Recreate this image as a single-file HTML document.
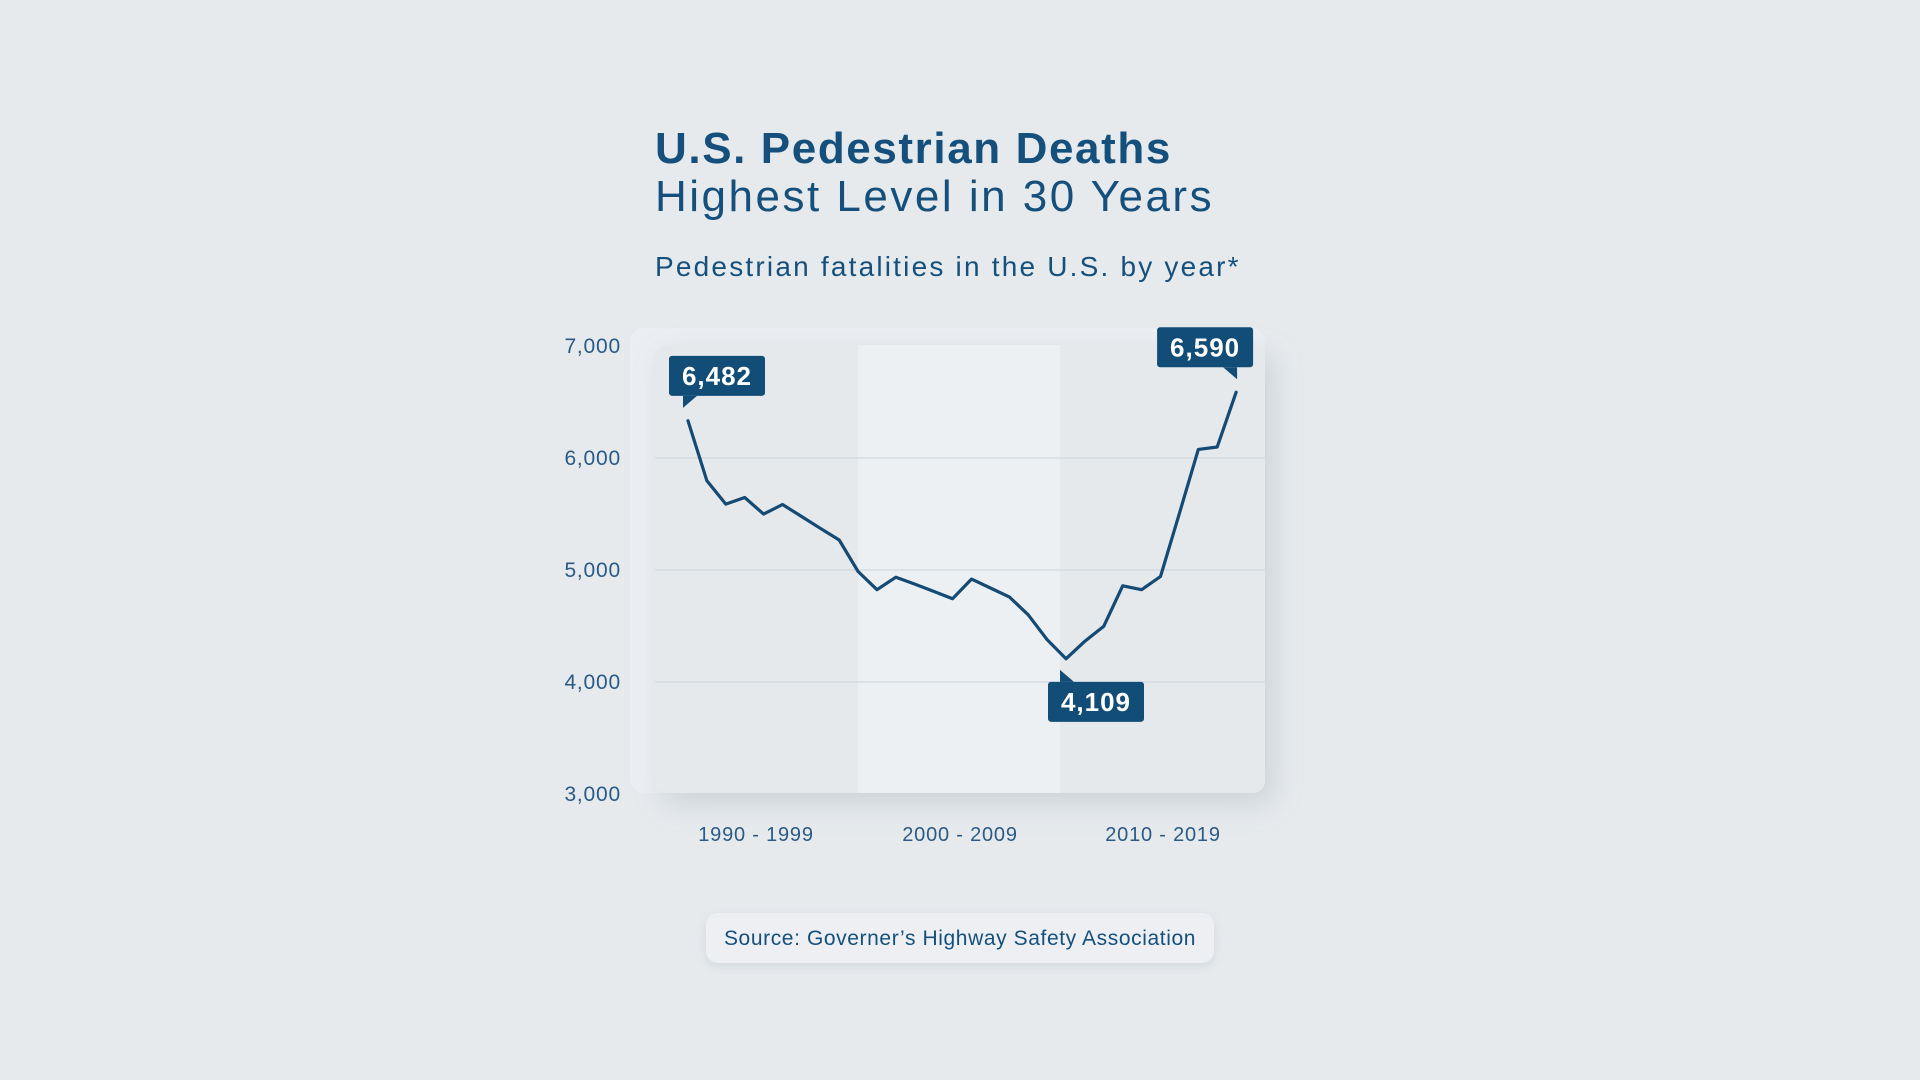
<!DOCTYPE html>
<html><head><meta charset="utf-8"><style>
html,body{margin:0;padding:0;background:#e6eaed;width:1920px;height:1080px;overflow:hidden;font-family:"Liberation Sans",sans-serif;}
svg{display:block}
</style></head><body>
<svg id="chart" width="1920" height="1080" viewBox="0 0 1920 1080" xmlns="http://www.w3.org/2000/svg">
<defs>
<filter id="sh" x="-20%" y="-20%" width="140%" height="140%"><feDropShadow dx="8" dy="10" stdDeviation="14" flood-color="#9aa4ad" flood-opacity="0.35"/></filter>
<filter id="sh2" x="-10%" y="-50%" width="120%" height="200%"><feDropShadow dx="0" dy="3" stdDeviation="5" flood-color="#b5bdc5" flood-opacity="0.4"/></filter>
</defs>
<rect width="1920" height="1080" fill="#e6eaed"/>
<text x="655" y="163" font-size="44" font-weight="bold" letter-spacing="1.6" fill="#15507d">U.S. Pedestrian Deaths</text>
<text x="655" y="211" font-size="44" letter-spacing="2.5" fill="#15507d">Highest Level in 30 Years</text>
<text x="655" y="276" font-size="28" letter-spacing="2.2" fill="#15507d">Pedestrian fatalities in the U.S. by year*</text>
<rect x="630" y="328" width="635" height="465" rx="14" fill="#eceff2" opacity="0.8"/>
<g filter="url(#sh)"><rect x="655" y="345" width="610" height="448" rx="12" fill="#e5e9ec"/></g>
<rect x="858" y="345" width="202" height="448" fill="#edf0f3"/>
<g id="grid"></g><g id="yt"></g><g id="xt"></g><g id="series"></g><g id="ann"></g>
<g filter="url(#sh2)"><rect x="706" y="913" width="508" height="50" rx="12" fill="#edeff3"/></g>
<text x="960" y="945" font-size="21" letter-spacing="0.6" fill="#15507d" text-anchor="middle">Source: Governer’s Highway Safety Association</text>
</svg>
<script>
const years = [1990,1991,1992,1993,1994,1995,1996,1997,1998,1999,2000,2001,2002,2003,2004,2005,2006,2007,2008,2009,2010,2011,2012,2013,2014,2015,2016,2017,2018,2019];
const deaths = [6332,5796,5588,5647,5499,5585,5479,5372,5268,4987,4824,4936,4874,4809,4744,4919,4839,4760,4600,4379,4207,4364,4498,4859,4824,4942,5505,6077,6098,6587];
const yTicks = [3000,4000,5000,6000,7000];
const yTickLabels = ["3,000","4,000","5,000","6,000","7,000"];
const decadeLabels = ["1990 - 1999","2000 - 2009","2010 - 2019"];
const callouts = [{year:1990,label:"6,482",pos:"ul"},{year:2010,label:"4,109",pos:"dr"},{year:2019,label:"6,590",pos:"ul2"}];

const NS="http://www.w3.org/2000/svg";
const yS=v=>794-(v-3000)*0.112;
const xS=yr=>688+(yr-1990)*18.9;
function mk(tag,attrs,parent){const e=document.createElementNS(NS,tag);for(const k in attrs)e.setAttribute(k,attrs[k]);document.getElementById(parent).appendChild(e);return e;}

yTicks.forEach((t,i)=>{
  if(t>3000&&t<7000){const g=mk('line',{x1:655,x2:1265,y1:yS(t),y2:yS(t),stroke:'#d2d8de','stroke-width':1.2},'grid');
  
  }
  const l=mk('text',{x:621,y:yS(t)+7,'font-size':21,'letter-spacing':0.8,fill:'#2a5a85','text-anchor':'end'},'yt');
  l.textContent=yTickLabels[i];
  
  
});
const bandCenters=[756,960,1163];
decadeLabels.forEach((d,i)=>{
  const l=mk('text',{x:bandCenters[i],y:841,'font-size':20,'letter-spacing':0.8,fill:'#2a5a85','text-anchor':'middle'},'xt');
  l.textContent=d;
  
  
});
const pts=years.map((y,i)=>xS(y).toFixed(1)+','+yS(deaths[i]).toFixed(1)).join(' ');
const line=mk('polyline',{points:pts,fill:'none',stroke:'#144a74','stroke-width':3.2,'stroke-linejoin':'round','stroke-linecap':'round'},'series');



callouts.forEach(c=>{
  const px=xS(c.year), py=yS(deaths[years.indexOf(c.year)]);
  let bx,by,tail;
  const w=96,h=40;
  if(c.pos==='ul'){bx=px-19;by=py-65;tail=`M${bx+14},${by+h} L${bx+14},${by+h+12} L${bx+28},${by+h} Z`;}
  else if(c.pos==='ul2'){bx=px-79;by=py-65;tail=`M${bx+w-30},${by+h} L${bx+w-16},${by+h+12} L${bx+w-16},${by+h} Z`;}
  else {bx=px-18;by=py+23;tail=`M${bx+12},${by} L${bx+12},${by-12} L${bx+26},${by} Z`;}
  const g=document.createElementNS(NS,'g');
  
  
  document.getElementById('ann').appendChild(g);
  const r=document.createElementNS(NS,'rect');
  r.setAttribute('x',bx);r.setAttribute('y',by);r.setAttribute('width',w);r.setAttribute('height',h);r.setAttribute('rx',3);r.setAttribute('fill','#124d78');
  g.appendChild(r);
  const p=document.createElementNS(NS,'path');p.setAttribute('d',tail);p.setAttribute('fill','#124d78');g.appendChild(p);
  const t=document.createElementNS(NS,'text');
  t.setAttribute('x',bx+w/2);t.setAttribute('y',by+29);t.setAttribute('font-size',26);t.setAttribute('letter-spacing',1);t.setAttribute('font-weight','bold');t.setAttribute('fill','#fff');t.setAttribute('text-anchor','middle');
  t.textContent=c.label;g.appendChild(t);
});
</script>
</body></html>
